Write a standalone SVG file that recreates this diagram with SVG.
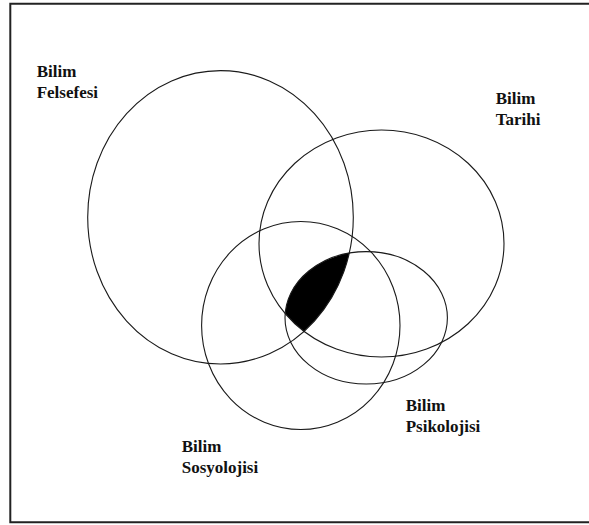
<svg xmlns="http://www.w3.org/2000/svg" width="589" height="525" viewBox="0 0 589 525">
<style>
.c{fill:none;stroke:#1a1a1a;stroke-width:1.1}
text{font-family:"Liberation Serif","Times New Roman",serif;font-weight:700;font-size:17px;fill:#111}
</style>
<defs>
<clipPath id="cpF"><ellipse cx="220.5" cy="217.3" rx="132.8" ry="146.7"/></clipPath>
<clipPath id="cpT"><ellipse cx="381.5" cy="243.5" rx="122.5" ry="113.5"/></clipPath>
</defs>
<rect width="589" height="525" fill="#fff"/>
<path d="M589 3.7H10.3V522.3H589" fill="none" stroke="#222" stroke-width="2"/>
<g id="overlap" clip-path="url(#cpF)"><g clip-path="url(#cpT)"><ellipse cx="366.2" cy="317.8" rx="81.2" ry="66.2" fill="#000"/></g></g>
<g id="felsefesi">
<ellipse class="c" cx="220.5" cy="217.3" rx="132.8" ry="146.7"/>
<text x="36.7" y="76.7">Bilim</text>
<text x="36.7" y="98.3">Felsefesi</text>
</g>
<g id="tarihi">
<ellipse class="c" cx="381.5" cy="243.5" rx="122.5" ry="113.5"/>
<text x="495.7" y="104">Bilim</text>
<text x="495.7" y="125.3">Tarihi</text>
</g>
<g id="sosyolojisi">
<ellipse class="c" cx="300.8" cy="325.5" rx="99.2" ry="104"/>
<text x="181.7" y="451.5">Bilim</text>
<text x="181.7" y="472.5">Sosyolojisi</text>
</g>
<g id="psikolojisi">
<ellipse class="c" cx="366.2" cy="317.8" rx="81.2" ry="66.2"/>
<text x="405.7" y="411">Bilim</text>
<text x="405.7" y="432">Psikolojisi</text>
</g>
</svg>
